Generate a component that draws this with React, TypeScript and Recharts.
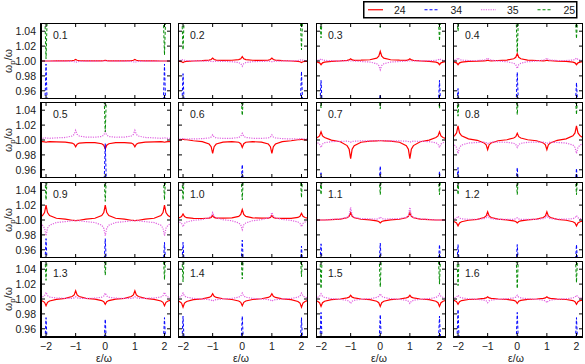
import React from 'react';
import { LineChart, Line, XAxis, YAxis } from 'recharts';

// ---------- data ----------
const PANEL_LABELS = ['0.1', '0.2', '0.3', '0.4', '0.5', '0.6', '0.7', '0.8', '0.9', '1.0', '1.1', '1.2', '1.3', '1.4', '1.5', '1.6'];

const SERIES_NAMES = ['24', '34', '35', '25'];

// x grid of the smooth curves (24, 35)
const GRID_X = [-2.2, -2.12, -2.05, -2, -1.95, -1.88, -1.65, -1.35, -1.12, -1.05, -1, -0.95, -0.88, -0.65, -0.35, -0.12, -0.05, 0, 0.05, 0.12, 0.35, 0.65, 0.88, 0.95, 1, 1.05, 1.12, 1.35, 1.65, 1.88, 1.95, 2, 2.05, 2.12, 2.2];

// x grid of the resonance spikes (34, 25)
const SPIKE_X = [-2.04, -2, -1.96, -0.04, 0, 0.04, 1.96, 2, 2.04];

const X_TICKS = [-2, -1, 0, 1, 2];
const Y_TICKS = [0.96, 0.98, 1.0, 1.02, 1.04];

// series "24" (red, solid)
const S24: number[][] = [
  [1, 1, 1, 1, 1, 1, 1.0001, 1.0002, 1.0006, 1.001, 1.002, 1.001, 1.0006, 1.0003, 1.0002, 1.0003, 1.0005, 1.001, 1.0005, 1.0003, 1.0002, 1.0003, 1.0006, 1.001, 1.002, 1.001, 1.0006, 1.0002, 1.0001, 1, 1, 1, 1, 1, 1],
  [0.9996, 0.9994, 0.999, 0.998, 0.999, 0.9994, 1, 1.0004, 1.0012, 1.002, 1.004, 1.002, 1.0012, 1.0008, 1.001, 1.0018, 1.003, 1.006, 1.003, 1.0018, 1.001, 1.0008, 1.0012, 1.002, 1.004, 1.002, 1.0012, 1.0004, 1, 0.9994, 0.999, 0.998, 0.999, 0.9994, 0.9996],
  [0.999, 0.9985, 0.9975, 0.995, 0.9975, 0.9985, 0.9996, 1.0001, 1.0009, 1.0015, 1.003, 1.0015, 1.0009, 1.0011, 1.0017, 1.0039, 1.0065, 1.013, 1.0065, 1.0039, 1.0017, 1.0011, 1.0009, 1.0015, 1.003, 1.0015, 1.0009, 1.0001, 0.9996, 0.9985, 0.9975, 0.995, 0.9975, 0.9985, 0.999],
  [0.999, 0.9985, 0.9975, 0.995, 0.9975, 0.9985, 0.9995, 0.9998, 1.0003, 1.0005, 1.001, 1.0005, 1.0003, 1.0007, 1.0013, 1.003, 1.005, 1.01, 1.005, 1.003, 1.0013, 1.0007, 1.0003, 1.0005, 1.001, 1.0005, 1.0003, 0.9998, 0.9995, 0.9985, 0.9975, 0.995, 0.9975, 0.9985, 0.999],
  [0.9978, 0.9977, 0.9975, 0.997, 0.9975, 0.9977, 0.9975, 0.9971, 0.9959, 0.9945, 0.991, 0.9945, 0.9959, 0.9966, 0.9964, 0.995, 0.993, 0.988, 0.993, 0.995, 0.9964, 0.9966, 0.9959, 0.9945, 0.991, 0.9945, 0.9959, 0.9971, 0.9975, 0.9977, 0.9975, 0.997, 0.9975, 0.9977, 0.9978],
  [1.0002, 1.0003, 1.0005, 1.001, 1.0005, 1.0003, 0.999, 0.9979, 0.9946, 0.991, 0.982, 0.991, 0.9946, 0.9972, 0.9977, 0.997, 0.995, 0.99, 0.995, 0.997, 0.9977, 0.9972, 0.9946, 0.991, 0.982, 0.991, 0.9946, 0.9979, 0.999, 1.0003, 1.0005, 1.001, 1.0005, 1.0003, 1.0002],
  [1.0022, 1.0033, 1.0055, 1.011, 1.0055, 1.0033, 0.9998, 0.9977, 0.9925, 0.9875, 0.975, 0.9875, 0.9925, 0.997, 0.9985, 0.9989, 0.999, 0.999, 0.999, 0.9989, 0.9985, 0.997, 0.9925, 0.9875, 0.975, 0.9875, 0.9925, 0.9977, 0.9998, 1.0033, 1.0055, 1.011, 1.0055, 1.0033, 1.0022],
  [1.0038, 1.0057, 1.0095, 1.019, 1.0095, 1.0057, 1.0015, 0.9996, 0.9961, 0.9935, 0.987, 0.9935, 0.9961, 0.999, 1.0003, 1.0027, 1.0045, 1.009, 1.0045, 1.0027, 1.0003, 0.999, 0.9961, 0.9935, 0.987, 0.9935, 0.9961, 0.9996, 1.0015, 1.0057, 1.0095, 1.019, 1.0095, 1.0057, 1.0038],
  [1.004, 1.006, 1.01, 1.02, 1.01, 1.006, 1.0023, 1.0011, 0.9997, 0.9995, 0.999, 0.9995, 0.9997, 1.0011, 1.0023, 1.006, 1.01, 1.02, 1.01, 1.006, 1.0023, 1.0011, 0.9997, 0.9995, 0.999, 0.9995, 0.9997, 1.0011, 1.0023, 1.006, 1.01, 1.02, 1.01, 1.006, 1.004],
  [1.0024, 1.0031, 1.0045, 1.008, 1.0045, 1.0031, 1.0021, 1.002, 1.0025, 1.0035, 1.006, 1.0035, 1.0025, 1.0024, 1.0029, 1.0049, 1.0075, 1.014, 1.0075, 1.0049, 1.0029, 1.0024, 1.0025, 1.0035, 1.006, 1.0035, 1.0025, 1.0021, 1.0023, 1.0034, 1.005, 1.009, 1.005, 1.0034, 1.0026],
  [1, 1, 1, 1, 1, 1, 1.0006, 1.0012, 1.003, 1.005, 1.01, 1.005, 1.003, 1.001, 1.0001, 0.9988, 0.998, 0.996, 0.998, 0.9988, 1.0001, 1.001, 1.003, 1.005, 1.01, 1.005, 1.003, 1.0012, 1.0006, 1, 1, 1, 1, 1, 1],
  [0.9984, 0.9976, 0.996, 0.992, 0.996, 0.9976, 0.9997, 1.0008, 1.0033, 1.0055, 1.011, 1.0055, 1.0033, 1.0011, 1.0002, 0.9988, 0.998, 0.996, 0.998, 0.9988, 1.0002, 1.0011, 1.0033, 1.0055, 1.011, 1.0055, 1.0033, 1.0008, 0.9997, 0.9976, 0.996, 0.992, 0.996, 0.9976, 0.9984],
  [0.9982, 0.9973, 0.9955, 0.991, 0.9955, 0.9973, 0.9996, 1.0008, 1.0033, 1.0055, 1.011, 1.0055, 1.0033, 1.0009, 0.9998, 0.9979, 0.9965, 0.993, 0.9965, 0.9979, 0.9998, 1.0009, 1.0033, 1.0055, 1.011, 1.0055, 1.0033, 1.0008, 0.9996, 0.9973, 0.9955, 0.991, 0.9955, 0.9973, 0.9982],
  [0.9978, 0.9967, 0.9945, 0.989, 0.9945, 0.9967, 0.9991, 1.0002, 1.0021, 1.0035, 1.007, 1.0035, 1.0021, 1.0003, 0.9993, 0.9973, 0.9955, 0.991, 0.9955, 0.9973, 0.9993, 1.0003, 1.0021, 1.0035, 1.007, 1.0035, 1.0021, 1.0002, 0.9991, 0.9967, 0.9945, 0.989, 0.9945, 0.9967, 0.9978],
  [0.998, 0.997, 0.995, 0.99, 0.995, 0.997, 0.9991, 1, 1.0015, 1.0025, 1.005, 1.0025, 1.0015, 1, 0.9991, 0.997, 0.995, 0.99, 0.995, 0.997, 0.9991, 1, 1.0015, 1.0025, 1.005, 1.0025, 1.0015, 1, 0.9991, 0.997, 0.995, 0.99, 0.995, 0.997, 0.998],
  [0.9986, 0.9979, 0.9965, 0.993, 0.9965, 0.9979, 0.9993, 0.9999, 1.0009, 1.0015, 1.003, 1.0015, 1.0009, 1, 0.9995, 0.9982, 0.997, 0.994, 0.997, 0.9982, 0.9995, 1, 1.0009, 1.0015, 1.003, 1.0015, 1.0009, 0.9999, 0.9993, 0.9979, 0.9965, 0.993, 0.9965, 0.9979, 0.9986],
];

// series "35" (violet, dotted)
const S35: number[][] = [
  [1, 1, 1, 1, 1, 1, 0.9999, 0.9998, 0.9994, 0.999, 0.998, 0.999, 0.9994, 0.9998, 0.9999, 1, 1, 1, 1, 1, 0.9999, 0.9998, 0.9994, 0.999, 0.998, 0.999, 0.9994, 0.9998, 0.9999, 1, 1, 1, 1, 1, 1],
  [1.0004, 1.0006, 1.001, 1.002, 1.001, 1.0006, 1.0002, 1, 0.9997, 0.9995, 0.999, 0.9995, 0.9997, 0.9995, 0.9991, 0.9979, 0.9965, 0.993, 0.9965, 0.9979, 0.9991, 0.9995, 0.9997, 0.9995, 0.999, 0.9995, 0.9997, 1, 1.0002, 1.0006, 1.001, 1.002, 1.001, 1.0006, 1.0004],
  [1.0006, 1.0009, 1.0015, 1.003, 1.0015, 1.0009, 1.0004, 1.0002, 1, 1, 1, 1, 1, 0.9993, 0.9986, 0.9964, 0.994, 0.988, 0.994, 0.9964, 0.9986, 0.9993, 1, 1, 1, 1, 1, 1.0002, 1.0004, 1.0009, 1.0015, 1.003, 1.0015, 1.0009, 1.0006],
  [1.0008, 1.0012, 1.002, 1.004, 1.002, 1.0012, 1.0007, 1.0007, 1.0012, 1.002, 1.004, 1.002, 1.0012, 0.9999, 0.999, 0.997, 0.995, 0.99, 0.995, 0.997, 0.999, 0.9999, 1.0012, 1.002, 1.004, 1.002, 1.0012, 1.0007, 1.0007, 1.0012, 1.002, 1.004, 1.002, 1.0012, 1.0008],
  [1.0022, 1.0023, 1.0025, 1.003, 1.0025, 1.0023, 1.0028, 1.0034, 1.0053, 1.0075, 1.013, 1.0075, 1.0053, 1.0039, 1.0037, 1.0047, 1.0065, 1.011, 1.0065, 1.0047, 1.0037, 1.0039, 1.0053, 1.0075, 1.013, 1.0075, 1.0053, 1.0034, 1.0028, 1.0023, 1.0025, 1.003, 1.0025, 1.0023, 1.0022],
  [1.0012, 1.0013, 1.0015, 1.002, 1.0015, 1.0013, 1.0015, 1.0018, 1.0028, 1.004, 1.007, 1.004, 1.0028, 1.0022, 1.0023, 1.0034, 1.005, 1.009, 1.005, 1.0034, 1.0023, 1.0022, 1.0028, 1.004, 1.007, 1.004, 1.0028, 1.0018, 1.0015, 1.0013, 1.0015, 1.002, 1.0015, 1.0013, 1.0012],
  [0.9972, 0.9963, 0.9945, 0.99, 0.9945, 0.9963, 0.9978, 0.9982, 0.9984, 0.998, 0.997, 0.998, 0.9984, 0.9988, 0.9989, 0.999, 0.999, 0.999, 0.999, 0.999, 0.9989, 0.9988, 0.9984, 0.998, 0.997, 0.998, 0.9984, 0.9982, 0.9978, 0.9963, 0.9945, 0.99, 0.9945, 0.9963, 0.9972],
  [0.9948, 0.9932, 0.99, 0.982, 0.99, 0.9932, 0.9959, 0.9967, 0.9971, 0.9965, 0.995, 0.9965, 0.9971, 0.9972, 0.9969, 0.9956, 0.994, 0.99, 0.994, 0.9956, 0.9969, 0.9972, 0.9971, 0.9965, 0.995, 0.9965, 0.9971, 0.9967, 0.9959, 0.9932, 0.99, 0.982, 0.99, 0.9932, 0.9948],
  [0.995, 0.993, 0.989, 0.979, 0.989, 0.993, 0.9966, 0.9978, 0.999, 0.999, 0.999, 0.999, 0.999, 0.9978, 0.9966, 0.993, 0.989, 0.979, 0.989, 0.993, 0.9966, 0.9978, 0.999, 0.999, 0.999, 0.999, 0.999, 0.9978, 0.9966, 0.993, 0.989, 0.979, 0.989, 0.993, 0.995],
  [0.9982, 0.9973, 0.9955, 0.991, 0.9955, 0.9973, 0.9995, 1.0007, 1.003, 1.005, 1.01, 1.005, 1.003, 1.0004, 0.999, 0.9961, 0.9935, 0.987, 0.9935, 0.9961, 0.999, 1.0004, 1.003, 1.005, 1.01, 1.005, 1.003, 1.0007, 0.9995, 0.9973, 0.9955, 0.991, 0.9955, 0.9973, 0.9982],
  [1, 1, 1, 1, 1, 1, 1.0008, 1.0015, 1.0035, 1.006, 1.017, 1.006, 1.0035, 1.002, 1.0015, 1.0012, 1.002, 1.004, 1.002, 1.0012, 1.0015, 1.002, 1.0035, 1.006, 1.017, 1.006, 1.0035, 1.0015, 1.0008, 1, 1, 1, 1, 1, 1],
  [1.001, 1.0015, 1.0025, 1.005, 1.0025, 1.0015, 1.001, 1.001, 1.0018, 1.003, 1.006, 1.003, 1.0018, 1.0009, 1.0007, 1.0009, 1.0015, 1.003, 1.0015, 1.0009, 1.0007, 1.0009, 1.0018, 1.003, 1.006, 1.003, 1.0018, 1.0011, 1.0011, 1.0018, 1.003, 1.006, 1.003, 1.0018, 1.0012],
  [1.0018, 1.0027, 1.0045, 1.009, 1.0045, 1.0027, 1.0013, 1.0009, 1.0009, 1.0015, 1.003, 1.0015, 1.0009, 1.0008, 1.0011, 1.0024, 1.004, 1.008, 1.004, 1.0024, 1.0011, 1.0008, 1.0009, 1.0015, 1.003, 1.0015, 1.0009, 1.0009, 1.0013, 1.0027, 1.0045, 1.009, 1.0045, 1.0027, 1.0018],
  [1.0016, 1.0024, 1.004, 1.008, 1.004, 1.0024, 1.0008, 1.0001, 0.9991, 0.9985, 0.997, 0.9985, 0.9991, 1.0001, 1.0008, 1.0024, 1.004, 1.008, 1.004, 1.0024, 1.0008, 1.0001, 0.9991, 0.9985, 0.997, 0.9985, 0.9991, 1.0001, 1.0008, 1.0024, 1.004, 1.008, 1.004, 1.0024, 1.0016],
  [1.0014, 1.0021, 1.0035, 1.007, 1.0035, 1.0021, 1.0005, 0.9997, 0.9982, 0.997, 0.994, 0.997, 0.9982, 0.9997, 1.0005, 1.0021, 1.0035, 1.007, 1.0035, 1.0021, 1.0005, 0.9997, 0.9982, 0.997, 0.994, 0.997, 0.9982, 0.9997, 1.0005, 1.0021, 1.0035, 1.007, 1.0035, 1.0021, 1.0014],
  [1.001, 1.0015, 1.0025, 1.005, 1.0025, 1.0015, 1.0003, 0.9997, 0.9985, 0.9975, 0.995, 0.9975, 0.9985, 0.9997, 1.0003, 1.0015, 1.0025, 1.005, 1.0025, 1.0015, 1.0003, 0.9997, 0.9985, 0.9975, 0.995, 0.9975, 0.9985, 0.9997, 1.0003, 1.0015, 1.0025, 1.005, 1.0025, 1.0015, 1.001],
];

// series "25" (green, dashed) at SPIKE_X; values beyond the top of the frame are off scale
const S25: number[][] = [
  [1.06, 1.003, 1.06, 1.06, 1.06, 1.06, 1.06, 1.008, 1.06],
  [1.06, 1.015, 1.06, 1.06, 1.06, 1.06, 1.06, 1.015, 1.06],
  [1.06, 1.031, 1.06, 1.06, 1.045, 1.06, 1.06, 1.027, 1.06],
  [1.06, 1.04, 1.06, 1.06, 1.011, 1.06, 1.06, 1.03, 1.06],
  [1.06, 1.06, 1.06, 1.06, 1.011, 1.06, 1.06, 1.06, 1.06],
  [1.06, 1.06, 1.06, 1.06, 1.033, 1.06, 1.06, 1.06, 1.06],
  [1.06, 1.043, 1.06, 1.06, 1.042, 1.06, 1.06, 1.042, 1.06],
  [1.06, 1.032, 1.06, 1.06, 1.034, 1.06, 1.06, 1.034, 1.06],
  [1.06, 1.027, 1.06, 1.06, 1.025, 1.06, 1.06, 1.027, 1.06],
  [1.06, 1.027, 1.06, 1.06, 1.027, 1.06, 1.06, 1.03, 1.06],
  [1.06, 1.034, 1.06, 1.06, 1.034, 1.06, 1.06, 1.034, 1.06],
  [1.06, 1.034, 1.06, 1.06, 1.034, 1.06, 1.06, 1.034, 1.06],
  [1.06, 1.025, 1.06, 1.06, 1.032, 1.06, 1.06, 1.026, 1.06],
  [1.06, 1.023, 1.06, 1.06, 1.027, 1.06, 1.06, 1.03, 1.06],
  [1.06, 1.014, 1.06, 1.06, 1.016, 1.06, 1.06, 1.02, 1.06],
  [1.06, 1.018, 1.06, 1.06, 1.014, 1.06, 1.06, 1.022, 1.06],
];

// series "34" (blue, dashed) at SPIKE_X; values below the frame are off scale
const S34: number[][] = [
  [0.94, 0.996, 0.94, 0.94, 0.94, 0.94, 0.94, 0.996, 0.94],
  [0.94, 0.983, 0.94, 0.94, 0.94, 0.94, 0.94, 0.986, 0.94],
  [0.94, 0.974, 0.94, 0.94, 0.955, 0.94, 0.94, 0.974, 0.94],
  [0.94, 0.963, 0.94, 0.94, 0.985, 0.94, 0.94, 0.971, 0.94],
  [0.94, 0.94, 0.94, 0.94, 0.995, 0.94, 0.94, 0.94, 0.94],
  [0.94, 0.94, 0.94, 0.94, 0.967, 0.94, 0.94, 0.94, 0.94],
  [0.94, 0.956, 0.94, 0.94, 0.965, 0.94, 0.94, 0.958, 0.94],
  [0.94, 0.963, 0.94, 0.94, 0.963, 0.94, 0.94, 0.962, 0.94],
  [0.94, 0.975, 0.94, 0.94, 0.975, 0.94, 0.94, 0.97, 0.94],
  [0.94, 0.97, 0.94, 0.94, 0.973, 0.94, 0.94, 0.965, 0.94],
  [0.94, 0.968, 0.94, 0.94, 0.969, 0.94, 0.94, 0.967, 0.94],
  [0.94, 0.967, 0.94, 0.94, 0.967, 0.94, 0.94, 0.967, 0.94],
  [0.94, 0.975, 0.94, 0.94, 0.973, 0.94, 0.94, 0.975, 0.94],
  [0.94, 0.977, 0.94, 0.94, 0.977, 0.94, 0.94, 0.975, 0.94],
  [0.94, 0.982, 0.94, 0.94, 0.979, 0.94, 0.94, 0.977, 0.94],
  [0.94, 0.986, 0.94, 0.94, 0.982, 0.94, 0.94, 0.975, 0.94],
];

// ---------- styling ----------
const FONT = '"Liberation Sans", Arial, Helvetica, sans-serif';
const TEXT = '#1a1a1a';
const FS = 10.5;
const X_DOMAIN: [number, number] = [-2.17, 2.22];
const Y_DOMAIN: [number, number] = [0.949, 1.051];
const COL_X = [41, 178.3, 315.7, 453];
const ROW_Y = [23, 102.3, 181.7, 261];
const PW = 130;
const PH = 76;

const STYLE: Record<string, { color: string; width: number; dash?: string }> = {
  '24': { color: '#ff0000', width: 1.2 },
  '34': { color: '#0000ff', width: 1, dash: '3 2' },
  '35': { color: '#e060e0', width: 1.2, dash: '1.2 1.2' },
  '25': { color: '#008a00', width: 1, dash: '3 2' },
};

const frame = { stroke: '#000', strokeWidth: 2, strokeLinecap: 'square' as const };
const tickLn = { stroke: '#000', strokeWidth: 1 };

const fmtX = (v: number) => (v < 0 ? '\u2212' + Math.abs(v) : String(v));

const XLabelTick = (props: any) => {
  const { x, y, payload } = props;
  return (
    <text x={x} y={y + 16.5} textAnchor="middle" fontSize={FS} fontFamily={FONT} fill={TEXT}>
      {fmtX(payload.value)}
    </text>
  );
};

const YLabelTick = (props: any) => {
  const { x, y, payload } = props;
  return (
    <text x={x - 9} y={y} dy="0.36em" textAnchor="end" fontSize={FS} fontFamily={FONT} fill={TEXT}>
      {Number(payload.value).toFixed(2)}
    </text>
  );
};

const NoTick = () => <g />;

function Panel({ idx }: { idx: number }) {
  const col = idx % 4;
  const row = Math.floor(idx / 4);
  const padL = col === 0 ? 41 : 0;
  const padB = row === 3 ? 27 : 0;
  const d24 = GRID_X.map((x, i) => ({ x, y: S24[idx][i] }));
  const d35 = GRID_X.map((x, i) => ({ x, y: S35[idx][i] }));
  const d34 = SPIKE_X.map((x, i) => ({ x, y: S34[idx][i] }));
  const d25 = SPIKE_X.map((x, i) => ({ x, y: S25[idx][i] }));
  const seriesData: Record<string, any[]> = { '24': d24, '34': d34, '35': d35, '25': d25 };

  return (
    <div style={{ position: 'absolute', left: COL_X[col] - padL, top: ROW_Y[row] }}>
      <LineChart width={PW + padL} height={PH + padB} margin={{ top: 0, right: 0, bottom: padB, left: padL }}>
        <XAxis xAxisId="b" type="number" dataKey="x" domain={X_DOMAIN} ticks={X_TICKS} allowDataOverflow
          orientation="bottom" mirror tickSize={4} tickMargin={0} interval={0}
          axisLine={frame} tickLine={tickLn} tick={row === 3 ? XLabelTick : NoTick} />
        <XAxis xAxisId="t" type="number" dataKey="x" domain={X_DOMAIN} ticks={X_TICKS} allowDataOverflow
          orientation="top" mirror tickSize={4} tickMargin={0} interval={0}
          axisLine={frame} tickLine={tickLn} tick={NoTick} />
        <YAxis yAxisId="l" type="number" domain={Y_DOMAIN} ticks={Y_TICKS} allowDataOverflow
          orientation="left" mirror tickSize={4} tickMargin={0} interval={0}
          axisLine={frame} tickLine={tickLn} tick={col === 0 ? YLabelTick : NoTick} />
        <YAxis yAxisId="r" type="number" domain={Y_DOMAIN} ticks={Y_TICKS} allowDataOverflow
          orientation="right" mirror tickSize={4} tickMargin={0} interval={0}
          axisLine={frame} tickLine={tickLn} tick={NoTick} />
        {SERIES_NAMES.map((name) => (
          <Line key={name} xAxisId="b" yAxisId="l" data={seriesData[name]} dataKey="y" type="linear"
            stroke={STYLE[name].color} strokeWidth={STYLE[name].width} strokeDasharray={STYLE[name].dash}
            dot={false} activeDot={false} isAnimationActive={false} />
        ))}
        <text x={padL + 12} y={15.5} fontSize={FS} fontFamily={FONT} fill={TEXT}>{PANEL_LABELS[idx]}</text>
        {col === 0 && (
          <text x={12} y={PH / 2} transform={`rotate(-90 12 ${PH / 2})`} textAnchor="middle"
            fontSize={FS} fontFamily={FONT} fill={TEXT}>
            {'\u03c9'}<tspan dy={2.5} fontSize={8}>p</tspan><tspan dy={-2.5}>/{'\u03c9'}</tspan>
          </text>
        )}
        {row === 3 && (
          <text x={padL + PW / 2 - 2} y={PH + 24.7} textAnchor="middle" fontSize={FS} fontFamily={FONT} fill={TEXT}>
            {'\u03b5/\u03c9'}
          </text>
        )}
      </LineChart>
    </div>
  );
}

function LegendBox() {
  return (
    <svg style={{ position: 'absolute', left: 363, top: 1 }} width={215} height={18}>
      <rect x={0.75} y={0.75} width={213} height={16} fill="#fff" stroke="#000" strokeWidth={1.5} />
      {SERIES_NAMES.map((name, i) => {
        const x0 = 5 + i * 56.5;
        const s = STYLE[name];
        return (
          <g key={name}>
            <line x1={x0} x2={x0 + 15} y1={8.75} y2={8.75} stroke={s.color} strokeWidth={s.width} strokeDasharray={s.dash} />
            <text x={x0 + 26} y={12.7} fontSize={FS} fontFamily={FONT} fill={TEXT}>{name}</text>
          </g>
        );
      })}
    </svg>
  );
}

export default function App() {
  return (
    <div style={{ position: 'absolute', left: 0, top: 0, width: 585, height: 364, background: '#fff' }}>
      {PANEL_LABELS.map((_, i) => (
        <Panel key={i} idx={i} />
      ))}
      <LegendBox />
    </div>
  );
}
